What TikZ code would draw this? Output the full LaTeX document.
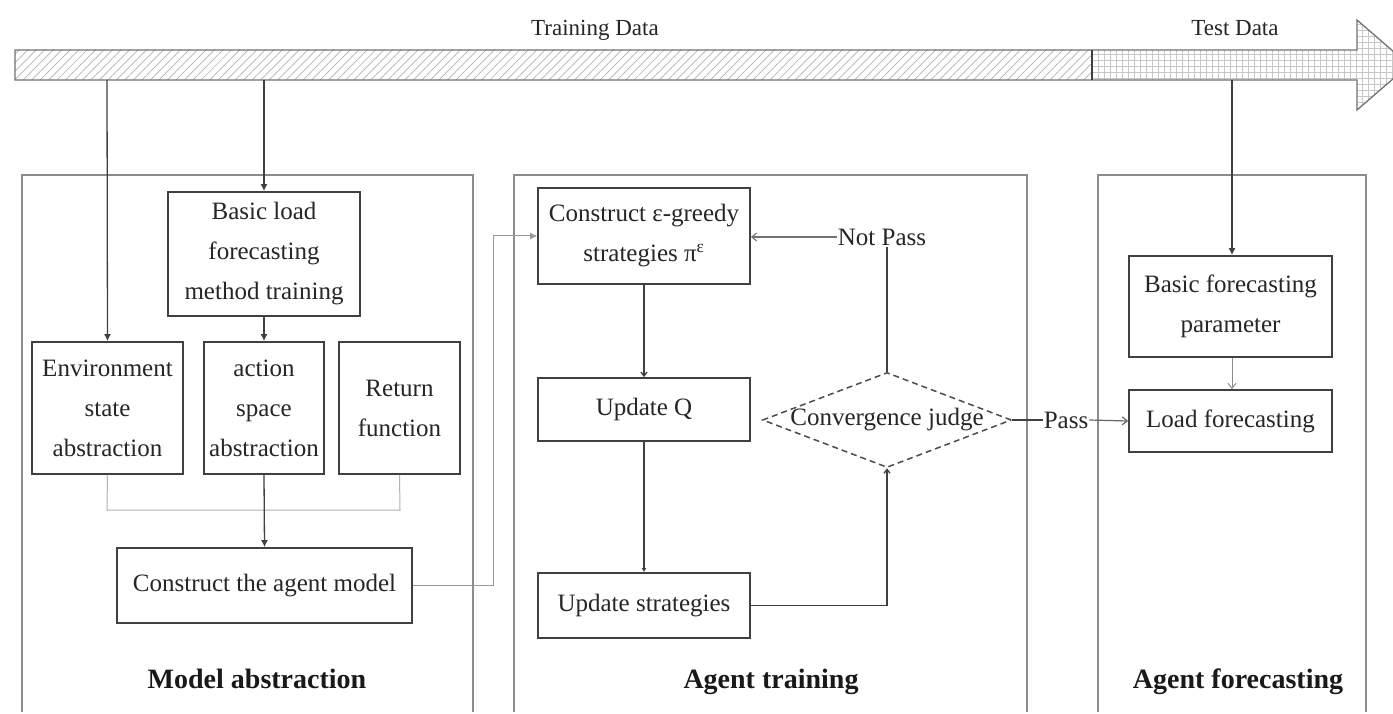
\documentclass[tikz,border=0pt]{standalone}
\usepackage{fontspec}
\setmainfont{Liberation Serif}
\usetikzlibrary{patterns.meta,arrows.meta,shapes.geometric}
\newcommand\bodyfnt{\fontsize{25}{40}\selectfont}
\newcommand\headfnt{\fontsize{28}{34}\selectfont\bfseries}
\newcommand\bandfnt{\fontsize{23}{28}\selectfont}
\begin{document}
\begin{tikzpicture}[x=1pt,y=-1pt,
  box/.style={draw=black!75, line width=1.8pt, inner sep=0pt, align=center,
              font=\bodyfnt, text=black!85},
  panel/.style={draw=black!45, line width=1.5pt},
  conn/.style={draw=black!75, line width=1.3pt},
  faint/.style={draw=black!30, line width=1pt},
  arr/.style={-{Latex[length=7pt,width=7pt]}},
  oarr/.style={-{Straight Barb[length=5pt,width=8pt]}},
  lbl/.style={font=\bodyfnt, text=black!85, inner sep=1pt},
  heading/.style={font=\headfnt, text=black!90, anchor=base},
  bandlbl/.style={font=\bandfnt, text=black!85, anchor=base}
]
\useasboundingbox (0,0) rectangle (1393,714);
\clip (0,0) rectangle (1393,714);
\fill[white] (0,0) rectangle (1393,714);

% ---- data timeline band ----
\path[pattern={Lines[angle=45,distance=6pt,line width=0.7pt]}, pattern color=black!30]
  (15,50) rectangle (1092,80);
\path[pattern={Hatch[angle=0,distance=6pt,line width=0.5pt]}, pattern color=black!22]
  (1092,50) -- (1357,50) -- (1357,20) -- (1409,65) -- (1357,110) -- (1357,80) -- (1092,80) -- cycle;
\draw[black!55, line width=1.3pt]
  (15,50) -- (1357,50) -- (1357,20) -- (1409,65) -- (1357,110) -- (1357,80) -- (15,80) -- cycle;
\draw[black!75, line width=2pt] (1092,50) -- (1092,80);
\node[bandlbl] (trainlbl) at (595,36) {Training Data};
\node[bandlbl] (testlbl) at (1235,36) {Test Data};

\coordinate (tapA) at (107,80);
\coordinate (tapB) at (264,80);
\coordinate (tapC) at (1232,80);

% ---- panels ----
\draw[panel] (22,712) -- (22,175) -- (473,175) -- (473,712);
\draw[panel] (514,712) -- (514,175) -- (1027,175) -- (1027,712);
\draw[panel] (1098,712) -- (1098,175) -- (1366,175) -- (1366,712);

% ---- model abstraction ----
\node[box, minimum width=192pt, minimum height=124pt] (bl) at (264,254)
  {Basic load\\forecasting\\method training};
\node[box, minimum width=151pt, minimum height=132pt] (env) at (107.5,408)
  {Environment\\state\\abstraction};
\node[box, minimum width=120pt, minimum height=132pt] (act) at (264,408)
  {action\\space\\abstraction};
\node[box, minimum width=121pt, minimum height=132pt] (ret) at (399.5,408)
  {Return\\function};
\node[box, minimum width=295pt, minimum height=75pt] (cam) at (264.5,585.5)
  {Construct the agent model};
\node[heading] (hma) at (257,688) {Model abstraction};

\draw[conn, arr] (tapA) -- (env.north);
\draw[conn, arr] (tapB) -- (bl.north);
\draw[conn, arr] (bl.south) -- (act.north);
\coordinate (jl) at (107,510);
\coordinate (jr) at (400,510);
\draw[faint] (env.south) -- (jl) -- (jr) -- (ret.south);
\draw[conn, arr] (act.south) -- (cam.north);

% ---- agent training ----
\node[box, minimum width=212pt, minimum height=96pt] (eps) at (644,236)
  {Construct ε-greedy\\strategies π\textsuperscript{ε}};
\node[box, minimum width=212pt, minimum height=63pt] (uq) at (644,409.5) {Update Q};
\node[box, minimum width=212pt, minimum height=65pt] (us) at (644,605.5) {Update strategies};
\node[diamond, draw=black!70, dash pattern=on 6pt off 4pt, line width=1.5pt, inner sep=0pt,
      minimum width=249pt, minimum height=95pt] (conv) at (887,420) {};
\node[lbl] (convlbl) at (887,420) {Convergence judge};
\node[lbl] (np) at (882,237) {Not Pass};
\node[lbl] (ps) at (1066,420) {Pass};
\node[heading] (hat) at (771,688) {Agent training};

\coordinate (jc) at (493,236);
\draw[draw=black!40, line width=1pt, arr] (cam.east) -| (jc) -- (eps.west);
\draw[conn, -{Straight Barb[length=4pt,width=6pt]}] (eps.south) -- (uq.north);
\draw[conn, -{Latex[length=4pt,width=5pt]}] (uq.south) -- (us.north);
\draw[conn, -{Straight Barb[length=4pt,width=6pt]}] (us.east) -| (conv.south);
\draw[conn] (conv.north) -- (np.south -| conv.north);
\draw[draw=black!55, line width=1.1pt, oarr] (np.west) -- (eps.east |- np.west);
\draw[conn] (conv.east) -- (ps.west);

% ---- agent forecasting ----
\node[box, minimum width=203pt, minimum height=101pt] (bfp) at (1230.5,306.5)
  {Basic forecasting\\parameter};
\node[box, minimum width=203pt, minimum height=62pt] (lf) at (1230.5,421)
  {Load forecasting};
\node[heading] (haf) at (1238,688) {Agent forecasting};

\draw[conn, arr] (tapC) -- (bfp.north -| tapC);
\draw[draw=black!45, line width=1pt, oarr] (bfp.south -| tapC) -- (lf.north -| tapC);
\draw[draw=black!60, line width=1.2pt, oarr] (ps.east) -- (lf.west);
\end{tikzpicture}
\end{document}
